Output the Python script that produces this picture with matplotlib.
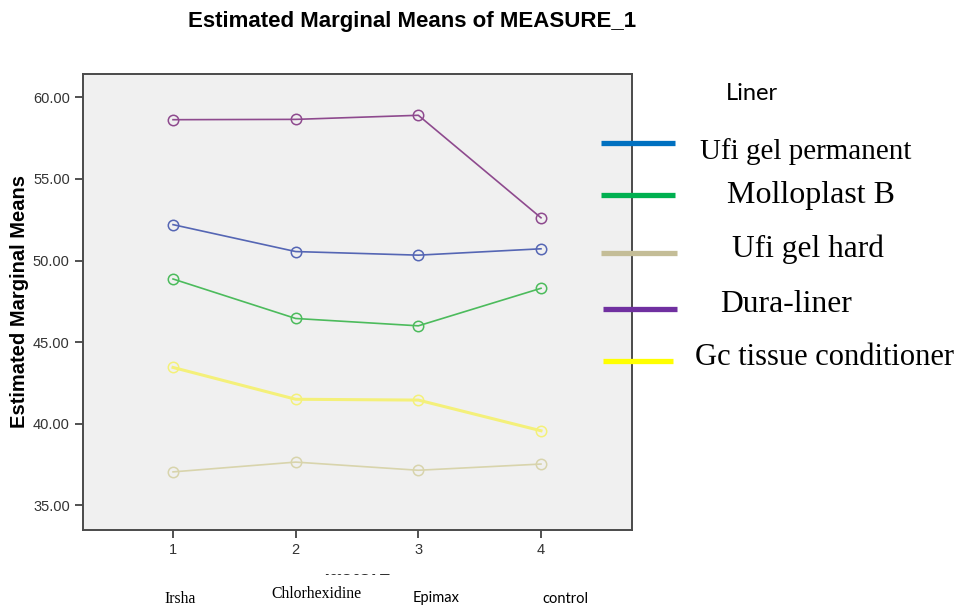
import matplotlib
matplotlib.use("Agg")
import matplotlib.pyplot as plt
from matplotlib.lines import Line2D
from matplotlib.patches import Rectangle

# levels of factor1
levels = [1, 2, 3, 4]
level_names = ["Irsha", "Chlorhexidine", "Epimax", "control"]

# estimated marginal means per liner
ufi_perm = [52.20, 50.55, 50.33, 50.72]
molloplast = [48.87, 46.45, 46.00, 48.30]
ufi_hard = [37.05, 37.65, 37.15, 37.53]
dura = [58.63, 58.65, 58.90, 52.62]
gc_tissue = [43.45, 41.50, 41.45, 39.57]

liner_names = ["Ufi gel permanent", "Molloplast B", "Ufi gel hard", "Dura-liner", "Gc tissue conditioner"]
line_cols = ["#5566b4", "#4cbb5c", "#d8d4ac", "#8e4a8e", "#f4f07a"]
legend_cols = ["#0070c0", "#00b050", "#c4bd97", "#7030a0", "#ffff00"]

fig = plt.figure(figsize=(9.68, 6.07), dpi=100)
ax = fig.add_axes([83/968, 1-529.5/607, 549/968, 455.5/607])
ax.set_facecolor("#f0f0f0")

series = [ufi_perm, molloplast, ufi_hard, dura, gc_tissue]
for vals, col in zip(series, line_cols):
    lw = 2.2 if col == "#f4f07a" else 1.2
    ax.plot(levels, vals, color=col, lw=lw, marker="o", ms=7.5,
            mfc="none", mec=col, mew=1.1)

ax.set_xlim(0.266, 4.742)
ax.set_ylim(33.52, 61.43)
ax.set_xticks(levels)
ax.set_yticks([35, 40, 45, 50, 55, 60])
ax.set_yticklabels(["%.2f" % v for v in [35, 40, 45, 50, 55, 60]])
ax.tick_params(direction="out", length=6, width=1.2, color="#333333",
               labelsize=10.5, labelcolor="#333333")
for lab in ax.get_xticklabels() + ax.get_yticklabels():
    lab.set_family("Liberation Sans")
for sp in ax.spines.values():
    sp.set_color("#4a4a4a")
    sp.set_linewidth(1.4)

ax.set_ylabel("Estimated Marginal Means", family="Liberation Sans",
              fontweight="bold", fontsize=14.5, labelpad=3)

fig.text(412/968, 1-22/607, "Estimated Marginal Means of MEASURE_1",
         family="Liberation Sans", fontweight="bold", fontsize=16,
         ha="center", va="center")

# x axis title is mostly hidden behind a white box in the original
fig.text(357/968, 1-575/607, "factor1", family="Liberation Sans",
         fontweight="bold", fontsize=14.5, ha="center", va="baseline")
fig.add_artist(Rectangle((315/968, 1-572.5/607), 90/968, 24/607,
                         transform=fig.transFigure, color="white", zorder=5))

# level names under the axis
name_pos = [(180, 599, "Liberation Serif", 11.3),
            (316, 594, "Liberation Serif", 11.3),
            (436, 598, "Lato", 10.5),
            (565, 599, "Lato", 10.5)]
for name, (x, y, fam, fs) in zip(level_names, name_pos):
    fig.text(x/968, 1-y/607, name, family=fam, fontsize=fs,
             ha="center", va="center", zorder=6)

# legend drawn by hand
fig.text(752/968, 1-100/607, "Liner", family="Lato", fontsize=17,
         ha="center", va="baseline")
swatch_y = [143, 195, 253, 309, 361]
swatch_x = [(601, 675), (601, 675), (601, 677), (603, 677), (603, 673)]
text_x = [700, 727, 732, 720, 695]
text_y = [159, 203, 257, 312, 365]
text_fs = [21, 23, 22.6, 22.8, 22]
for i, name in enumerate(liner_names):
    x0, x1 = swatch_x[i]
    fig.add_artist(Line2D([x0/968, x1/968], [1-swatch_y[i]/607]*2,
                          transform=fig.transFigure, color=legend_cols[i],
                          lw=3.8, solid_capstyle="butt"))
    fig.text(text_x[i]/968, 1-text_y[i]/607, name, family="Liberation Serif",
             fontsize=text_fs[i], ha="left", va="baseline")

fig.savefig("out.png", dpi=100, facecolor="white")
